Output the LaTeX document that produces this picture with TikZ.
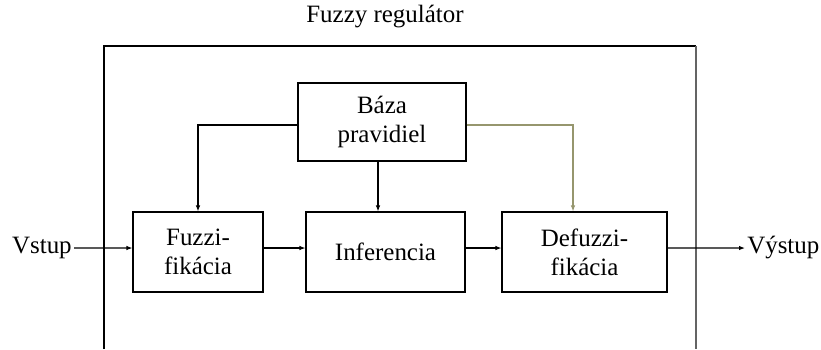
\documentclass[tikz,border=0pt]{standalone}
\usepackage{fontspec}
\setmainfont{Liberation Serif}
\usetikzlibrary{arrows.meta}

\definecolor{framegray}{RGB}{100,100,100}
\definecolor{olivegray}{RGB}{150,150,110}

\begin{document}
\begin{tikzpicture}[x=0.02cm,y=-0.02cm,
    font=\fontsize{14.2}{16.5}\selectfont,
    every path/.style={line width=0.6pt},
    >={Latex[length=0.12cm,width=0.09cm]}]

      \useasboundingbox (0,0) rectangle (821,349);

      % vonkajsi ramec
      \draw (104,349) -- (104,46) -- (696,46);
      \draw[framegray] (696,46) -- (696,349);
      \node (title) at (385,17) {Fuzzy regulátor};

      \begin{scope}[every node/.style={draw, align=center, minimum height=1.6cm}]
        \node[minimum width=3.36cm, minimum height=1.56cm] (baza) at (382,122) {Báza\\pravidiel};
        \node[minimum width=2.6cm]  (fuz) at (198,252) {Fuzzi-\\fikácia};
        \node[minimum width=3.18cm] (inf) at (385.5,252) {Inferencia};
        \node[minimum width=3.3cm]  (def) at (584.5,252) {Defuzzi-\\fikácia};
      \end{scope}

      \begin{scope}[every node/.style={inner sep=1pt}]
        \node[anchor=east] (vstup) at (74,248) {Vstup};
        \node[anchor=west] (vystup) at (745,248) {Výstup};
      \end{scope}

      \begin{scope}[every edge/.style={draw,->}]
        \path (vstup.east) edge ([yshift=0.08cm]fuz.west);
        \path ([yshift=0.08cm]fuz.east) edge ([yshift=0.08cm]inf.west);
        \path ([yshift=0.08cm]inf.east) edge ([yshift=0.08cm]def.west);
        \path ([yshift=0.08cm]def.east) edge (vystup.west);
      \end{scope}

      \draw[->] ([yshift=-0.06cm]baza.west) -| (fuz.north);
      \draw[->] ([xshift=-0.08cm]baza.south) -- ([xshift=-0.08cm]baza.south |- inf.north);
      \draw[olivegray,->] ([yshift=-0.06cm]baza.east) -| ([xshift=-0.23cm]def.north);

    \end{tikzpicture}
\end{document}
